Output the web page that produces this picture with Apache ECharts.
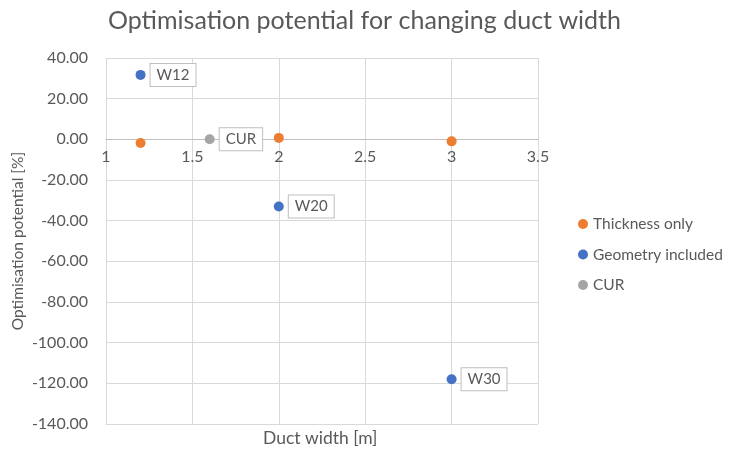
<!DOCTYPE html>
<html><head><meta charset="utf-8">
<script src="https://cdn.jsdelivr.net/npm/echarts@6/dist/echarts.min.js"></script>
<style>html,body{margin:0;padding:0;background:#fff}#c{width:729px;height:451px}</style>
</head><body><div id="c"></div>
<script>
const titleText = 'Optimisation potential for changing duct width';
const xAxisName = 'Duct width [m]';
const yAxisName = 'Optimisation potential [%]';
const thicknessX = [1.2, 2, 3];
const thicknessY = [-1.8, 0.7, -1];
const geometryX = [1.2, 2, 3];
const geometryY = [31.7, -33, -118];
const geometryLabels = ['W12', 'W20', 'W30'];
const curX = [1.6];
const curY = [0];
const curLabels = ['CUR'];

const font = 'Lato, "Open Sans", sans-serif';
const txt = '#595959';
const grid = '#d9d9d9';
const gridTop = 58, gridBottom = 27, plotH = 451 - gridTop - gridBottom;
const yMin = -140, yMax = 40;

function pts(xs, ys, labels) {
  return xs.map((x, i) => labels ? {value: [x, ys[i]], name: labels[i]} : [x, ys[i]]);
}
const boxLabel = {
  show: true, position: 'right', distance: 5,
  formatter: p => p.name,
  color: txt, fontFamily: font, fontSize: 15,
  backgroundColor: '#fff', borderColor: '#bfbfbf', borderWidth: 1,
  padding: [4, 6, 3, 6]
};
const chart = echarts.init(document.getElementById('c'), null, {renderer: 'canvas'});
chart.setOption({
  animation: false,
  title: {text: titleText, left: 'center', top: 3,
    textStyle: {fontFamily: font, fontSize: 25, fontWeight: 'normal', color: txt}},
  grid: {left: 106, right: 191, top: gridTop, bottom: gridBottom,
    containLabel: false, outerBoundsMode: 'none'},
  legend: {
    orient: 'vertical', left: 573, top: 211, itemGap: 14.5,
    icon: 'circle', itemWidth: 10, itemHeight: 10, itemStyle: {borderWidth: 0},
    textStyle: {fontFamily: font, fontSize: 15.5, color: txt},
    data: ['Thickness only', 'Geometry included', 'CUR']
  },
  xAxis: {
    type: 'value', min: 1, max: 3.5, interval: 0.5, position: 'bottom',
    offset: -(0 - yMin) / (yMax - yMin) * plotH,
    axisLine: {show: true, onZero: false, lineStyle: {color: '#bfbfbf'}},
    axisTick: {show: false},
    axisLabel: {color: txt, fontFamily: font, fontSize: 16, margin: 10,
      formatter: v => String(v)},
    splitLine: {show: true, lineStyle: {color: grid}}
  },
  yAxis: {
    type: 'value', min: yMin, max: yMax, interval: 20,
    name: yAxisName, nameLocation: 'middle', nameGap: 80, nameMoveOverlap: false,
    nameTextStyle: {fontFamily: font, fontSize: 15.5, color: txt},
    axisLine: {show: false}, axisTick: {show: false},
    axisLabel: {color: txt, fontFamily: font, fontSize: 16, margin: 18,
      formatter: v => v.toFixed(2)},
    splitLine: {show: true, lineStyle: {color: grid}}
  },
  graphic: [{
    type: 'text', left: 263, top: 429,
    style: {text: xAxisName, font: '17.5px ' + font, fill: txt}
  }],
  series: [
    {name: 'Thickness only', type: 'scatter', symbolSize: 10,
      itemStyle: {color: '#ED7D31', opacity: 1}, data: pts(thicknessX, thicknessY)},
    {name: 'Geometry included', type: 'scatter', symbolSize: 10,
      itemStyle: {color: '#4472C4', opacity: 1}, data: pts(geometryX, geometryY, geometryLabels),
      label: boxLabel},
    {name: 'CUR', type: 'scatter', symbolSize: 10,
      itemStyle: {color: '#A5A5A5', opacity: 1}, data: pts(curX, curY, curLabels),
      label: boxLabel}
  ]
});
</script></body></html>
